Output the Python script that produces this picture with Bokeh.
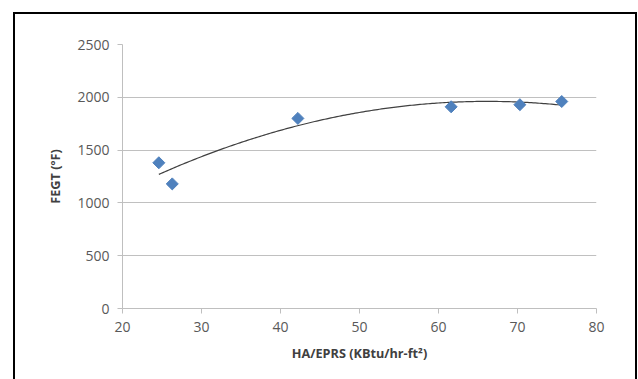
import numpy as np
from bokeh.plotting import figure
from bokeh.models import FixedTicker, Range1d
from bokeh.embed import file_html
from bokeh.resources import INLINE

# data
ha_eprs = [24.6, 26.3, 42.2, 61.6, 70.3, 75.6]
fegt = [1380, 1180, 1800, 1910, 1930, 1960]
x_ticks = [20, 30, 40, 50, 60, 70, 80]
y_ticks = [0, 500, 1000, 1500, 2000, 2500]

p = figure(width=624, height=367, output_backend="svg", toolbar_location=None,
           x_range=Range1d(20, 80), y_range=Range1d(0, 2500),
           min_border_left=107, min_border_right=43, min_border_top=30, min_border_bottom=73,
           margin=(12, 0, 0, 13),
           styles={"border-left": "2px solid black", "border-top": "2px solid black",
                   "border-right": "2px solid black"})
p.background_fill_color = "white"
p.border_fill_color = "white"
p.outline_line_color = None

font = "Open Sans"
for ax in (p.xaxis[0], p.yaxis[0]):
    ax.axis_line_color = "#bfbfbf"
    ax.major_tick_line_color = "#bfbfbf"
    ax.minor_tick_line_color = None
    ax.major_tick_in = 0
    ax.major_tick_out = 5
    ax.major_label_text_font = font
    ax.major_label_text_font_size = "14px"
    ax.major_label_text_color = "#595959"
    ax.axis_label_text_font = font
    ax.axis_label_text_font_size = "12.7px"
    ax.axis_label_text_font_style = "bold"
    ax.axis_label_text_color = "#404040"

p.xaxis.ticker = FixedTicker(ticks=x_ticks)
p.yaxis.ticker = FixedTicker(ticks=y_ticks)
p.xaxis.axis_label = "HA/EPRS (KBtu/hr-ft²)"
p.yaxis.axis_label = "FEGT (ºF)"
p.xaxis.major_label_standoff = 8
p.yaxis.major_label_standoff = 8
p.xaxis.axis_label_standoff = 9
p.yaxis.axis_label_standoff = 10

p.xgrid.grid_line_color = None
p.ygrid.grid_line_color = "#c0c0c0"
p.ygrid.ticker = FixedTicker(ticks=y_ticks)

# polynomial (order 2) trendline fitted to the data
coef = np.polyfit(ha_eprs, fegt, 2)
xs = np.linspace(min(ha_eprs), max(ha_eprs), 200)
p.line(xs, np.polyval(coef, xs), line_color="#404040", line_width=1.2)

p.scatter(ha_eprs, fegt, marker="square", angle=np.pi / 4, size=8.5,
          fill_color="#4f81bd", line_color="#4f81bd")

open("out.html", "w").write(file_html(p, INLINE))
